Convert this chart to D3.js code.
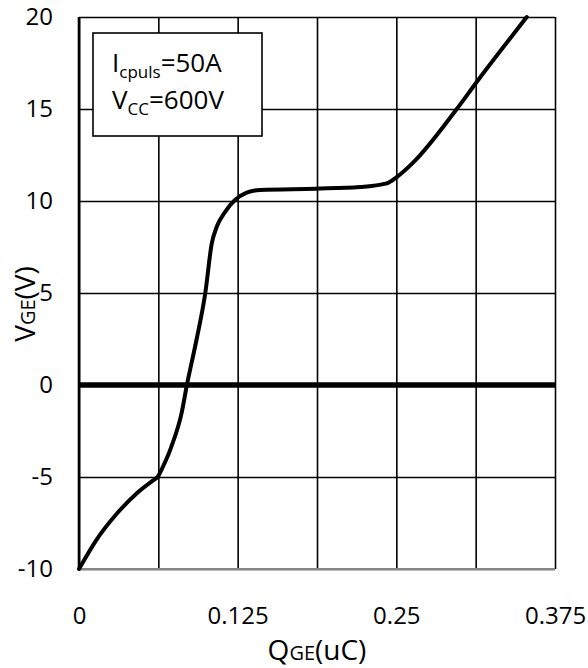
<!DOCTYPE html>
<html>
<head>
<meta charset="utf-8">
<script src="https://cdn.jsdelivr.net/npm/d3@7"></script>
<style>
  body { margin: 0; background: #fff; }
  svg { display: block; font-family: "Open Sans", sans-serif; }
</style>
</head>
<body>
<div id="chart"></div>
<script>
// Gate charge curve
const qValues = [0, 0.0139, 0.0297, 0.046, 0.0621, 0.0725, 0.0809, 0.085, 0.0927, 0.0995,
  0.1046, 0.1085, 0.115, 0.1229, 0.1321, 0.1426, 0.1865, 0.2214, 0.2425, 0.2503,
  0.2634, 0.2976, 0.3126, 0.3528];
const vValues = [-10, -8.4, -7.0, -5.85, -5.0, -3.4, -1.5, 0, 2.5, 5.0,
  7.7, 8.6, 9.4, 10.05, 10.45, 10.6, 10.67, 10.76, 10.96, 11.3,
  12.1, 15.0, 16.4, 20.0];
const kinkIndex = 4; // the curve has a corner at -5 V

const xGrid = [0, 0.0625, 0.125, 0.1875, 0.25, 0.3125, 0.375];
const xLabels = [0, 0.125, 0.25, 0.375];
const yTicks = [-10, -5, 0, 5, 10, 15, 20];
const legendLines = [["I", "cpuls", "=50A"], ["V", "CC", "=600V"]];

const width = 588, height = 668;
const margin = { top: 17, right: 33, bottom: 99, left: 79 };

const svg = d3.select("#chart").append("svg").attr("width", width).attr("height", height);

const x = d3.scaleLinear().domain([0, 0.375]).range([margin.left, width - margin.right]);
const y = d3.scaleLinear().domain([-10, 20]).range([height - margin.bottom, margin.top]);

// grid
svg.append("g")
    .attr("transform", `translate(0,${y(-10)})`)
    .call(d3.axisBottom(x).tickValues(xGrid).tickSize(-(y(-10) - y(20))).tickFormat(""))
    .call(g => g.select(".domain").remove())
    .call(g => g.selectAll("line").attr("stroke", "#000").attr("stroke-width", 1.6));

svg.append("g")
    .attr("transform", `translate(${x(0)},0)`)
    .call(d3.axisLeft(y).tickValues(yTicks).tickSize(-(x(0.375) - x(0))).tickFormat(""))
    .call(g => g.select(".domain").remove())
    .call(g => g.selectAll("line").attr("stroke", "#000").attr("stroke-width", 1.6));

// axis lines
svg.append("line")
    .attr("x1", x(0)).attr("x2", x(0.375)).attr("y1", y(-10)).attr("y2", y(-10))
    .attr("stroke", "#868686").attr("stroke-width", 2);
svg.append("line")
    .attr("x1", x(0)).attr("x2", x(0)).attr("y1", y(-10)).attr("y2", y(20))
    .attr("stroke", "#000").attr("stroke-width", 2.6);
svg.append("line")
    .attr("x1", x(0)).attr("x2", x(0.375)).attr("y1", y(0)).attr("y2", y(0))
    .attr("stroke", "#000").attr("stroke-width", 5.5);

// tick labels (plain hyphen for negatives, as in the original)
svg.append("g")
    .attr("transform", `translate(0,${y(-10)})`)
    .call(d3.axisBottom(x).tickValues(xLabels).tickSize(0).tickPadding(38).tickFormat(d => String(d)))
    .call(g => g.select(".domain").remove())
    .call(g => g.selectAll("text").attr("font-size", 24).attr("font-family", "Open Sans").attr("fill", "#000"));

svg.append("g")
    .attr("transform", `translate(${x(0)},0)`)
    .call(d3.axisLeft(y).tickValues(yTicks).tickSize(0).tickPadding(26).tickFormat(d => String(d)))
    .call(g => g.select(".domain").remove())
    .call(g => g.selectAll("text").attr("font-size", 24).attr("font-family", "Open Sans").attr("fill", "#000"));

// curve, drawn in two pieces so the corner at -5 V stays sharp
const points = qValues.map((q, i) => [q, vValues[i]]);
const line = d3.line().x(d => x(d[0])).y(d => y(d[1])).curve(d3.curveMonotoneX);
svg.append("g").selectAll("path")
    .data([points.slice(0, kinkIndex + 1), points.slice(kinkIndex)])
    .join("path")
    .attr("fill", "none")
    .attr("stroke", "#000")
    .attr("stroke-width", 4)
    .attr("stroke-linecap", "round")
    .attr("d", line);

// legend box
svg.append("rect")
    .attr("x", 93).attr("y", 33).attr("width", 169).attr("height", 103)
    .attr("fill", "#fff").attr("stroke", "#000").attr("stroke-width", 1.6);

const legend = svg.append("g").attr("font-size", 26);
legendLines.forEach((parts, i) => {
  const t = legend.append("text").attr("x", 112).attr("y", 72 + i * 37);
  t.append("tspan").text(parts[0]);
  t.append("tspan").attr("font-size", 17).attr("dy", 6).text(parts[1]);
  t.append("tspan").attr("dy", -6).text(parts[2]);
});

// axis titles
const xt = svg.append("text")
    .attr("x", (x(0) + x(0.375)) / 2).attr("y", 660)
    .attr("text-anchor", "middle").attr("font-size", 28);
xt.append("tspan").text("Q");
xt.append("tspan").attr("font-size", 20).text("GE");
xt.append("tspan").text("(uC)");

const yt = svg.append("text")
    .attr("transform", "translate(35,304) rotate(-90)")
    .attr("text-anchor", "middle").attr("font-size", 28);
yt.append("tspan").text("V");
yt.append("tspan").attr("font-size", 20).text("GE");
yt.append("tspan").text("(V)");
</script>
</body>
</html>
